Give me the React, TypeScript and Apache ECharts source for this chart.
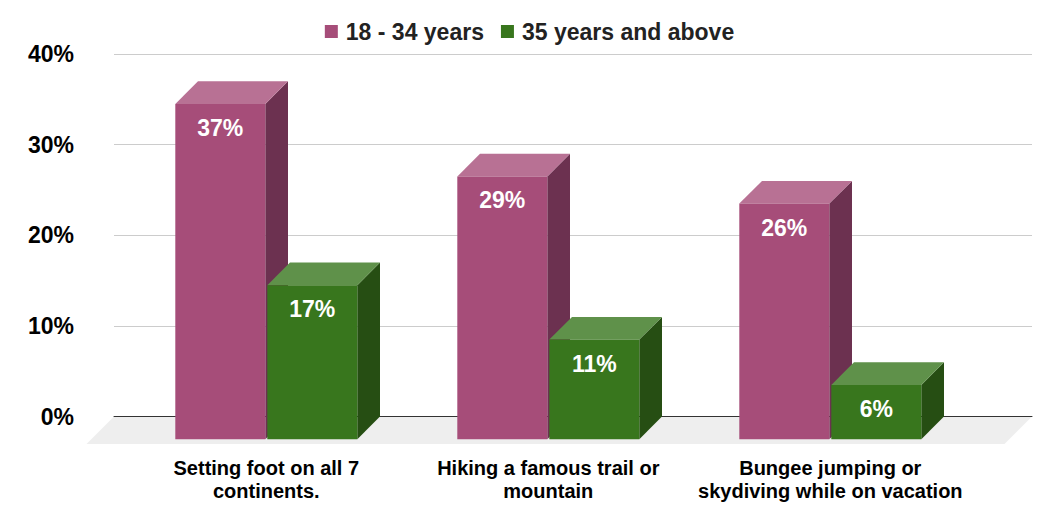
import { useEffect, useRef } from "react";
import * as echarts from "echarts";

const categories = [
  "Setting foot on all 7\ncontinents.",
  "Hiking a famous trail or\nmountain",
  "Bungee jumping or\nskydiving while on vacation",
];
const seriesNames = ["18 - 34 years", "35 years and above"];
const youngShare = [37, 29, 26];
const olderShare = [17, 11, 6];
const yTicks = [0, 10, 20, 30, 40];

const FONT = "'Liberation Sans', Arial, sans-serif";
const DEPTH = 22.7; // 3d offset of the bars
const FLOOR_DEPTH = 27.5;
const BAR_W = 90;

const PINK = { front: "#a64d79", top: "#b87194", side: "#6c3150" };
const GREEN = { front: "#38761d", top: "#5f914a", side: "#264e13" };

type Faces = { front: string; top: string; side: string };

// one 3d box per data item, drawn on the front plane grid
const makeBarRenderer = (side: "left" | "right", c: Faces) => (_params: any, api: any) => {
  const cat = api.value(0);
  const val = api.value(1);
  const [cx, yTop] = api.coord([cat, val]);
  const [, yBase] = api.coord([cat, 0]);
  const left = side === "left" ? cx - BAR_W - 1 : cx + 1;
  const right = left + BAR_W;
  return {
    type: "group",
    children: [
      {
        type: "polygon",
        shape: {
          points: [
            [right, yTop],
            [right + DEPTH, yTop - DEPTH],
            [right + DEPTH, yBase - DEPTH],
            [right, yBase],
          ],
        },
        style: { fill: c.side },
      },
      {
        type: "polygon",
        shape: {
          points: [
            [left, yTop],
            [right, yTop],
            [right + DEPTH, yTop - DEPTH],
            [left + DEPTH, yTop - DEPTH],
          ],
        },
        style: { fill: c.top },
      },
      {
        type: "rect",
        shape: { x: left, y: yTop, width: BAR_W, height: yBase - yTop },
        style: { fill: c.front },
      },
      {
        type: "text",
        x: (left + right) / 2,
        y: yTop + 24,
        style: {
          text: val + "%",
          fill: "#ffffff",
          fontSize: 23,
          fontWeight: "bold",
          fontFamily: FONT,
          align: "center",
          verticalAlign: "middle",
        },
      },
    ],
  };
};

const App = () => {
  const chartRef = useRef<HTMLDivElement>(null);

  useEffect(() => {
    if (!chartRef.current) return;
    const chart = echarts.init(chartRef.current, undefined, { renderer: "svg" });

    const option: any = {
      animation: false,
      textStyle: { fontFamily: FONT },
      legend: {
        top: 15,
        left: "center",
        icon: "rect",
        itemWidth: 13,
        itemHeight: 13,
        itemGap: 17,
        data: seriesNames,
        textStyle: {
          fontSize: 23,
          fontWeight: "bold",
          color: "#222222",
          fontFamily: FONT,
          padding: [0, 0, 0, 3],
        },
      },
      grid: [
        // back plane: gridlines and y labels
        { left: 114, right: 27, top: 54, bottom: 114.4 },
        // front plane: the bars' front faces and category labels
        { left: 125.3, right: 87.7, top: 76.7, bottom: 91.7 },
      ],
      xAxis: [
        {
          gridIndex: 0,
          type: "value",
          min: 0,
          max: 1,
          z: 1,
          axisLine: { show: true, lineStyle: { color: "#333333", width: 1 } },
          axisTick: { show: false },
          axisLabel: { show: false },
          splitLine: { show: false },
        },
        {
          gridIndex: 1,
          type: "category",
          data: categories,
          axisLine: { show: false },
          axisTick: { show: false },
          axisLabel: {
            interval: 0,
            margin: 17,
            color: "#000000",
            fontSize: 20,
            fontWeight: "bold",
            lineHeight: 23,
            fontFamily: FONT,
          },
        },
      ],
      yAxis: [
        {
          gridIndex: 0,
          type: "value",
          min: yTicks[0],
          max: yTicks[yTicks.length - 1],
          interval: yTicks[1] - yTicks[0],
          axisLine: { show: false },
          axisTick: { show: false },
          axisLabel: {
            formatter: "{value}%",
            margin: 40,
            color: "#000000",
            fontSize: 23,
            fontWeight: "bold",
            fontFamily: FONT,
          },
          splitLine: { lineStyle: { color: "#cccccc", width: 1 } },
        },
        {
          gridIndex: 1,
          type: "value",
          min: yTicks[0],
          max: yTicks[yTicks.length - 1],
          show: false,
        },
      ],
      series: [
        {
          // floor under the bars
          type: "custom",
          name: "floor",
          xAxisIndex: 0,
          yAxisIndex: 0,
          z: 0,
          silent: true,
          data: [[0, 0]],
          renderItem: (params: any) => {
            const { x, y, width, height } = params.coordSys;
            const b = y + height;
            return {
              type: "polygon",
              shape: {
                points: [
                  [x, b],
                  [x + width, b],
                  [x + width - FLOOR_DEPTH, b + FLOOR_DEPTH],
                  [x - FLOOR_DEPTH, b + FLOOR_DEPTH],
                ],
              },
              style: { fill: "#eeeeee" },
            };
          },
        },
        {
          type: "custom",
          name: seriesNames[0],
          xAxisIndex: 1,
          yAxisIndex: 1,
          z: 3,
          itemStyle: { color: PINK.front },
          encode: { x: 0, y: 1 },
          data: youngShare.map((v, i) => [i, v]),
          renderItem: makeBarRenderer("left", PINK),
        },
        {
          type: "custom",
          name: seriesNames[1],
          xAxisIndex: 1,
          yAxisIndex: 1,
          z: 3,
          itemStyle: { color: GREEN.front },
          encode: { x: 0, y: 1 },
          data: olderShare.map((v, i) => [i, v]),
          renderItem: makeBarRenderer("right", GREEN),
        },
      ],
    };

    chart.setOption(option);

    return () => {
      chart.dispose();
    };
  }, []);

  return (
    <div
      ref={chartRef}
      style={{ position: "fixed", left: 0, top: 0, width: "1059px", height: "531px", background: "#ffffff" }}
    />
  );
};

export default App;
